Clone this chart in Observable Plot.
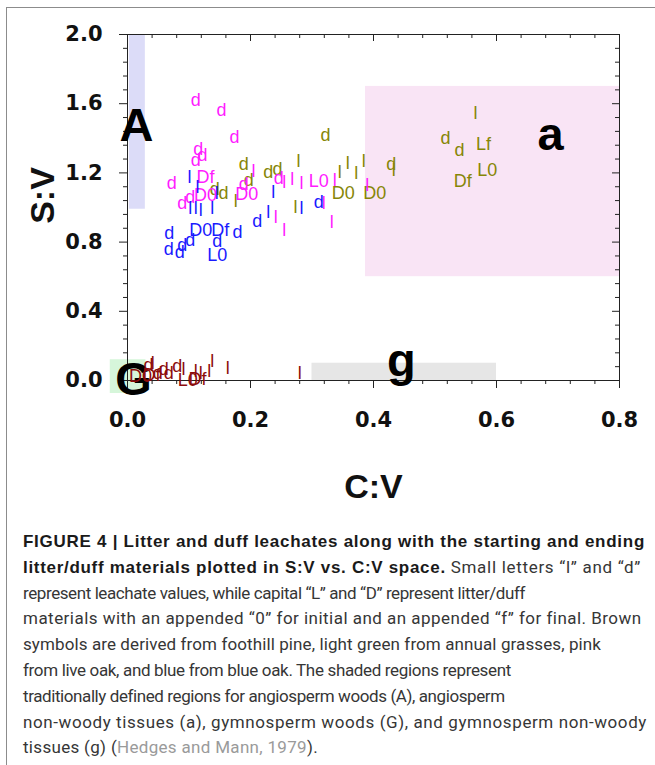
<!DOCTYPE html>
<html><head><meta charset="utf-8">
<script src="https://cdn.jsdelivr.net/npm/d3@7"></script>
<script src="https://cdn.jsdelivr.net/npm/@observablehq/plot@0.6"></script>
<style>
html,body{margin:0;padding:0;background:#fff;}
body{width:655px;height:765px;position:relative;overflow:hidden;font-family:"Liberation Sans",Arial,sans-serif;}
#box{position:absolute;left:6px;top:7px;width:700px;height:800px;border-left:1.5px solid #8c8c8c;border-top:1.5px solid #8c8c8c;}
#chart{position:absolute;left:0;top:0;}
#caption{position:absolute;left:23px;top:529px;font-family:Roboto,"Liberation Sans",sans-serif;font-size:17px;line-height:25.8px;color:#363636;}
#caption div{white-space:nowrap;}
#caption .ln{display:inline-block;}
#caption b{color:#1a1a1a;font-weight:700;font-family:"Liberation Sans",Arial,sans-serif;}
#caption .ref{color:#9a9a9a;}
</style></head><body>
<div id="box"></div>
<div id="chart"></div>
<div id="caption"></div>
<script>
// ---- axis ticks ----
const xTicks = [0, 0.2, 0.4, 0.6, 0.8];
const xMinor = [0.04, 0.08, 0.12, 0.16, 0.24, 0.28, 0.32, 0.36, 0.44, 0.48, 0.52, 0.56, 0.64, 0.68, 0.72, 0.76];
const yTicks = [0, 0.4, 0.8, 1.2, 1.6, 2.0];
const yMinor = [0.08, 0.16, 0.24, 0.32, 0.48, 0.56, 0.64, 0.72, 0.88, 0.96, 1.04, 1.12, 1.28, 1.36, 1.44, 1.52, 1.68, 1.76, 1.84, 1.92];

// ---- shaded regions (Hedges and Mann) ----
const regionNames = ["A", "a", "G", "g"];
const regionX1 = [0.003, 0.387, -0.028, 0.3];
const regionX2 = [0.029, 0.8, 0.03, 0.6];
const regionY1 = [0.99, 0.6, -0.075, 0];
const regionY2 = [2.0, 1.7, 0.12, 0.1];
const regionLabelX = [0.0146, 0.688, 0.010, 0.4455];
const regionLabelY = [1.47, 1.42, 0.005, 0.112];

// ---- foothill pine (brown) ----
const pineText = ["D0","Df","d","l","d","d","d","d","l","l","l","L0","Df","l","l","l","l"];
const pineX = [0.021,0.039,0.034,0.041,0.049,0.059,0.067,0.081,0.091,0.111,0.119,0.098,0.114,0.133,0.138,0.163,0.280];
const pineY = [0.026,0.032,0.090,0.101,0.043,0.067,0.043,0.084,0.067,0.055,0.043,0.003,0.009,0.055,0.113,0.072,0.043];

// ---- annual grasses (olive) ----
const grassText = ["d","d","d","d","d","l","l","l","l","l","D0","D0","d","l","d","d","l","Lf","L0","Df","d","d","l","l"];
const grassX = [0.322,0.189,0.197,0.229,0.244,0.278,0.345,0.358,0.372,0.384,0.351,0.402,0.429,0.433,0.517,0.540,0.566,0.579,0.585,0.545,0.142,0.156,0.176,0.273];
const grassY = [1.417,1.249,1.157,1.203,1.220,1.267,1.203,1.255,1.197,1.267,1.081,1.081,1.249,1.214,1.400,1.330,1.545,1.365,1.214,1.151,1.104,1.081,1.035,1.000];

// ---- live oak (pink) ----
const liveText = ["d","d","d","d","d","d","d","Df","D0","d","d","D0","l","d","d","l","l","l","L0","l","l","l","l","l","l"];
const liveX = [0.111,0.153,0.174,0.115,0.122,0.111,0.072,0.127,0.127,0.102,0.089,0.194,0.205,0.189,0.246,0.255,0.268,0.283,0.311,0.337,0.241,0.255,0.332,0.319,0.390];
const liveY = [1.620,1.562,1.406,1.336,1.300,1.272,1.139,1.174,1.070,1.058,1.023,1.075,1.209,1.133,1.168,1.145,1.162,1.139,1.151,1.157,0.942,0.867,0.913,1.023,1.128];

// ---- blue oak (blue) ----
const blueText = ["l","l","l","l","l","l","l","D0","Df","d","d","d","d","d","d","d","L0","d","l","l","d","l"];
const blueX = [0.101,0.114,0.102,0.111,0.119,0.138,0.145,0.119,0.151,0.179,0.146,0.068,0.102,0.089,0.067,0.085,0.146,0.211,0.229,0.237,0.311,0.283];
const blueY = [1.174,1.116,0.994,0.994,0.983,0.994,1.081,0.867,0.867,0.855,0.803,0.849,0.809,0.780,0.757,0.739,0.722,0.919,0.971,1.087,1.029,0.994];

// ---- build tables ----
const regions = regionNames.map((n, i) => ({name: n, x1: regionX1[i], x2: regionX2[i], y1: regionY1[i], y2: regionY2[i], lx: regionLabelX[i], ly: regionLabelY[i]}));
const series = (txt, xs, ys, s) => txt.map((t, i) => ({t, x: xs[i], y: ys[i], s}));
const pts = [
  ...series(pineText, pineX, pineY, "pine"),
  ...series(grassText, grassX, grassY, "grass"),
  ...series(liveText, liveX, liveY, "live"),
  ...series(blueText, blueX, blueY, "blue")
];
const seriesColor = {pine: "#8c0c0c", grass: "#868606", live: "#ff1cff", blue: "#1a1aff"};
const regionColor = {A: "#dcdcf8", a: "#f9e4f5", G: "#d6f6da", g: "#e6e6e6"};

const W = 655, H = 520, mL = 127, mR = 36, mT = 34, mB = 140;
const frameW = W - mL - mR, frameH = H - mT - mB;
const tickFont = {fontFamily: "DejaVu Sans", fontSize: 21, fontWeight: "bold", fill: "#111"};

const chart = Plot.plot({
  width: W, height: H,
  marginLeft: mL, marginRight: mR, marginTop: mT, marginBottom: mB,
  x: {domain: [0, 0.8]},
  y: {domain: [0, 2]},
  style: {background: "transparent", overflow: "visible"},
  marks: [
    Plot.rect(regions, {x1: "x1", x2: "x2", y1: "y1", y2: "y2", fill: d => regionColor[d.name]}),
    Plot.frame({stroke: "#222", strokeWidth: 1}),
    // bottom & left axes (ticks outward)
    Plot.axisX(xTicks, {anchor: "bottom", tickSize: 8, tickPadding: 24, tickFormat: d3.format(".1f"), label: null, stroke: "#222", ...tickFont}),
    Plot.axisX(xMinor, {anchor: "bottom", tickSize: 4, tickFormat: () => "", label: null, stroke: "#222"}),
    Plot.axisY(yTicks, {anchor: "left", tickSize: 8, tickPadding: 17, tickFormat: d3.format(".1f"), label: null, stroke: "#222", ...tickFont}),
    Plot.axisY(yMinor, {anchor: "left", tickSize: 4, tickFormat: () => "", label: null, stroke: "#222"}),
    // top & right ticks (inward)
    Plot.tickX(xTicks, {x: d => d, insetBottom: frameH - 7, stroke: "#222"}),
    Plot.tickX(xMinor, {x: d => d, insetBottom: frameH - 4, stroke: "#222"}),
    Plot.tickY(yTicks, {y: d => d, insetLeft: frameW - 7, stroke: "#222"}),
    Plot.tickY(yMinor, {y: d => d, insetLeft: frameW - 4, stroke: "#222"}),
    // axis titles
    Plot.text(["C:V"], {frameAnchor: "bottom", dy: 117, textAnchor: "middle", fontFamily: "Liberation Sans", fontSize: 34, fontWeight: "bold", fill: "#111"}),
    Plot.text(["S:V"], {frameAnchor: "left", dx: -84, dy: -12, rotate: -90, textAnchor: "middle", fontFamily: "Liberation Sans", fontSize: 34, fontWeight: "bold", fill: "#111"}),
    // region letters
    Plot.text(regions, {x: "lx", y: "ly", text: "name", fontFamily: "Liberation Sans", fontSize: 47, fontWeight: "bold", fill: "#000"}),
    // data symbols
    Plot.text(pts, {x: "x", y: "y", text: "t", fill: d => seriesColor[d.s], fontFamily: "Liberation Sans", fontSize: 18})
  ]
});
document.getElementById("chart").appendChild(chart);

// ---- caption ----
const capLines = [
  '<b>FIGURE 4 | Litter and duff leachates along with the starting and ending</b>',
  '<b>litter/duff materials plotted in S:V vs. C:V space.</b> Small letters “l” and “d”',
  'represent leachate values, while capital “L” and “D” represent litter/duff',
  'materials with an appended “0” for initial and an appended “f” for final. Brown',
  'symbols are derived from foothill pine, light green from annual grasses, pink',
  'from live oak, and blue from blue oak. The shaded regions represent',
  'traditionally defined regions for angiosperm woods (A), angiosperm',
  'non-woody tissues (a), gymnosperm woods (G), and gymnosperm non-woody',
  'tissues (g) (<span class="ref">Hedges and Mann, 1979</span>).'
];
const capRight = [645, 641, 525, 641, 601, 511, 504, 647, 318];
const cap = document.getElementById("caption");
capLines.forEach((h, i) => {
  const row = document.createElement("div");
  const span = document.createElement("span");
  span.className = "ln";
  span.innerHTML = h;
  row.appendChild(span);
  cap.appendChild(row);
  const w = span.getBoundingClientRect().width;
  const n = span.textContent.length;
  const target = capRight[i] - 23;
  span.style.letterSpacing = ((target - w) / n).toFixed(3) + "px";
});
</script>
</body></html>
